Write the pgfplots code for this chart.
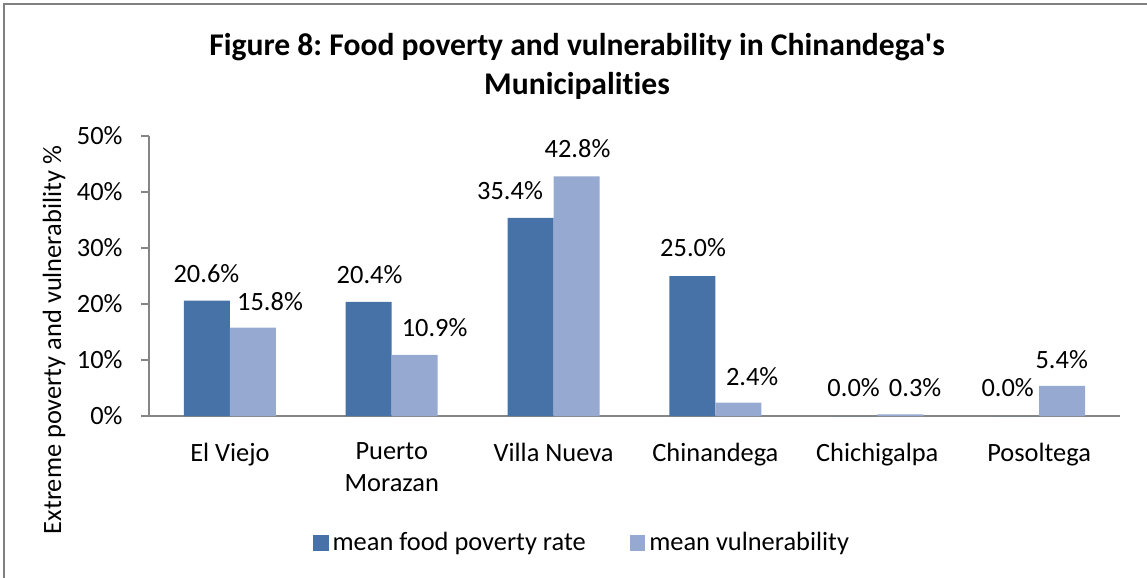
\documentclass[border=0pt]{standalone}
\usepackage{pgfplots}
\pgfplotsset{compat=1.18}
\usepackage{fontspec}
\setmainfont{Carlito}[Ligatures={NoCommon}]
\frenchspacing
\definecolor{darkbar}{RGB}{70,114,167}
\definecolor{lightbar}{RGB}{149,169,209}
\definecolor{axisgray}{RGB}{134,134,134}
\definecolor{framegray}{RGB}{128,128,128}
\begin{document}
\begin{tikzpicture}
\useasboundingbox (-74.5bp,-81bp) rectangle (499bp,208bp);
\draw[framegray, line width=1bp] (-72.5bp,-85bp) -- (-72.5bp,206bp) -- (505bp,206bp);
\begin{axis}[
  at={(0,0)}, anchor=south west,
  scale only axis, width=485.5bp, height=140bp,
  xmin=-0.5, xmax=5.5, ymin=0, ymax=50,
  axis line style={-, draw=axisgray, line width=0.8bp},
  axis x line*=bottom, axis y line*=left,
  xtick={0,1,2,3,4,5},
  xticklabels={El Viejo,{Puerto\\Morazan},Villa Nueva,Chinandega,Chichigalpa,Posoltega},
  x tick style={draw=none},
  xticklabel style={align=center, font=\fontsize{13.2bp}{16bp}\selectfont, anchor=north, yshift=-6bp},
  ytick={0,10,20,30,40,50},
  yticklabels={0\%,10\%,20\%,30\%,40\%,50\%},
  y tick style={draw=axisgray, line width=0.8bp},
  tick align=outside, major tick length=4bp,
  yticklabel style={font=\fontsize{13.2bp}{16bp}\selectfont, anchor=east, inner xsep=0pt, xshift=-9bp},
  ylabel={Extreme poverty and vulnerability \%},
  ylabel style={at={(axis description cs:-0.0978,0.271)}, anchor=center, font=\fontsize{13.2bp}{16bp}\selectfont},
  title={Figure 8: Food poverty and vulnerability in Chinandega\textquotesingle s\\Municipalities},
  title style={at={(axis description cs:0.4408,1.205)}, anchor=center, align=center, font=\fontsize{15.8bp}{19.5bp}\selectfont\bfseries},
  legend columns=2,
  legend style={at={(axis description cs:0.447,-0.4536)}, anchor=center, draw=none, fill=none,
    font=\fontsize{13.2bp}{16bp}\selectfont,
    /tikz/every even column/.append style={column sep=20bp}},
  legend image code/.code={\fill[#1] (0bp,-3.9bp) rectangle (7.8bp,3.9bp);},
  clip=false,
]
\addplot[ybar, bar width=23bp, bar shift=-11.5bp, fill=darkbar, draw=none] coordinates {
  (0,20.6) (1,20.4) (2,35.4) (3,25.0) (4,0.0) (5,0.0)};
\addlegendentry{mean food poverty rate}
\addplot[ybar, bar width=23bp, bar shift=11.5bp, fill=lightbar, draw=none] coordinates {
  (0,15.8) (1,10.9) (2,42.8) (3,2.4) (4,0.3) (5,5.4)};
\addlegendentry{mean vulnerability}
\addplot[draw=none, mark=none, forget plot, point meta=explicit symbolic,
  nodes near coords={\pgfplotspointmeta\%},
  nodes near coords align=center,
  every node near coord/.append style={anchor=center, font=\fontsize{13.2bp}{16bp}\selectfont, text=black}]
  table[meta=lab] {
x y lab
-0.145 25.4 20.6
0.248 20.5 15.8
0.863 25.2 20.4
1.265 15.7 10.9
1.731 40.2 35.4
2.148 47.7 42.8
2.862 30.0 25.0
3.227 7.0 2.4
3.854 5.0 0.0
4.234 5.0 0.3
4.806 5.0 0.0
5.140 10.0 5.4
};
\end{axis}
\end{tikzpicture}
\end{document}
